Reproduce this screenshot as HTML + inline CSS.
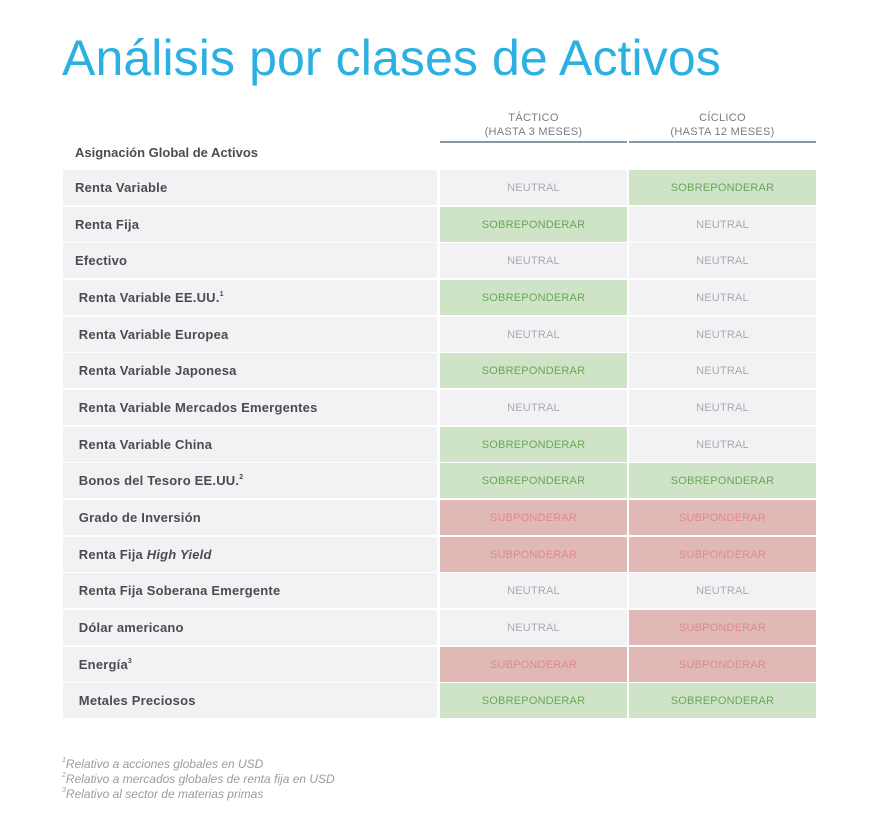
<!DOCTYPE html>
<html><head><meta charset="utf-8"><style>
body{margin:0;background:#fff;width:884px;height:816px;position:relative;font-family:"Liberation Sans",sans-serif;overflow:hidden}
.t{position:absolute;left:62px;top:29px;font-size:50px;color:#2bb0e2;font-weight:normal;letter-spacing:0.1px;white-space:nowrap}
.h{position:absolute;top:111px;width:187px;text-align:center;font-size:11px;color:#7a7c80;line-height:14px;letter-spacing:.3px}
.hl{position:absolute;top:141px;width:187px;height:2px;background:#8a99a6}
.row{position:absolute;left:63px;height:35px}
.c{position:absolute;top:0;height:35px;line-height:36px;font-size:11px;letter-spacing:.2px}
.l{left:0;width:374px;background:#f2f2f4;font-weight:bold;color:#4b4c50;font-size:13px;padding-left:12px;box-sizing:border-box}
.a{left:377px;width:187px;text-align:center}
.b{left:566px;width:187px;text-align:center}
.N{background:#f2f2f4;color:#a9abaf}
.S{background:#cfe4c7;color:#6aa55a}
.U{background:#e0b9b7;color:#e08a87}
.f{position:absolute;left:62px;font-size:12px;font-style:italic;color:#9a9ca0}
sup{font-size:7px;line-height:0;vertical-align:6px}
</style></head><body>
<div class="t">Análisis por clases de Activos</div>
<div class="h" style="left:440px">TÁCTICO<br>(HASTA 3 MESES)</div>
<div class="h" style="left:629px">CÍCLICO<br>(HASTA 12 MESES)</div>
<div class="hl" style="left:440px"></div><div class="hl" style="left:629px"></div>
<div style="position:absolute;left:75px;top:145px;font-size:13px;font-weight:bold;color:#4b4c50">Asignación Global de Activos</div>
<div class="row" style="top:170px"><div class="c l">Renta Variable</div><div class="c a N">NEUTRAL</div><div class="c b S">SOBREPONDERAR</div></div>
<div class="row" style="top:206.7px"><div class="c l">Renta Fija</div><div class="c a S">SOBREPONDERAR</div><div class="c b N">NEUTRAL</div></div>
<div class="row" style="top:243.3px"><div class="c l">Efectivo</div><div class="c a N">NEUTRAL</div><div class="c b N">NEUTRAL</div></div>
<div class="row" style="top:280px"><div class="c l">&nbsp;Renta Variable EE.UU.<sup>1</sup></div><div class="c a S">SOBREPONDERAR</div><div class="c b N">NEUTRAL</div></div>
<div class="row" style="top:316.7px"><div class="c l">&nbsp;Renta Variable Europea</div><div class="c a N">NEUTRAL</div><div class="c b N">NEUTRAL</div></div>
<div class="row" style="top:353.3px"><div class="c l">&nbsp;Renta Variable Japonesa</div><div class="c a S">SOBREPONDERAR</div><div class="c b N">NEUTRAL</div></div>
<div class="row" style="top:390px"><div class="c l">&nbsp;Renta Variable Mercados Emergentes</div><div class="c a N">NEUTRAL</div><div class="c b N">NEUTRAL</div></div>
<div class="row" style="top:426.7px"><div class="c l">&nbsp;Renta Variable China</div><div class="c a S">SOBREPONDERAR</div><div class="c b N">NEUTRAL</div></div>
<div class="row" style="top:463.3px"><div class="c l">&nbsp;Bonos del Tesoro EE.UU.<sup>2</sup></div><div class="c a S">SOBREPONDERAR</div><div class="c b S">SOBREPONDERAR</div></div>
<div class="row" style="top:500px"><div class="c l">&nbsp;Grado de Inversión</div><div class="c a U">SUBPONDERAR</div><div class="c b U">SUBPONDERAR</div></div>
<div class="row" style="top:536.7px"><div class="c l">&nbsp;Renta Fija <i>High Yield</i></div><div class="c a U">SUBPONDERAR</div><div class="c b U">SUBPONDERAR</div></div>
<div class="row" style="top:573.3px"><div class="c l">&nbsp;Renta Fija Soberana Emergente</div><div class="c a N">NEUTRAL</div><div class="c b N">NEUTRAL</div></div>
<div class="row" style="top:610px"><div class="c l">&nbsp;Dólar americano</div><div class="c a N">NEUTRAL</div><div class="c b U">SUBPONDERAR</div></div>
<div class="row" style="top:646.7px"><div class="c l">&nbsp;Energía<sup>3</sup></div><div class="c a U">SUBPONDERAR</div><div class="c b U">SUBPONDERAR</div></div>
<div class="row" style="top:683.3px"><div class="c l">&nbsp;Metales Preciosos</div><div class="c a S">SOBREPONDERAR</div><div class="c b S">SOBREPONDERAR</div></div>
<div class="f" style="top:757px"><sup>1</sup>Relativo a acciones globales en USD</div>
<div class="f" style="top:772px"><sup>2</sup>Relativo a mercados globales de renta fija en USD</div>
<div class="f" style="top:787px"><sup>3</sup>Relativo al sector de materias primas</div>
</body></html>
